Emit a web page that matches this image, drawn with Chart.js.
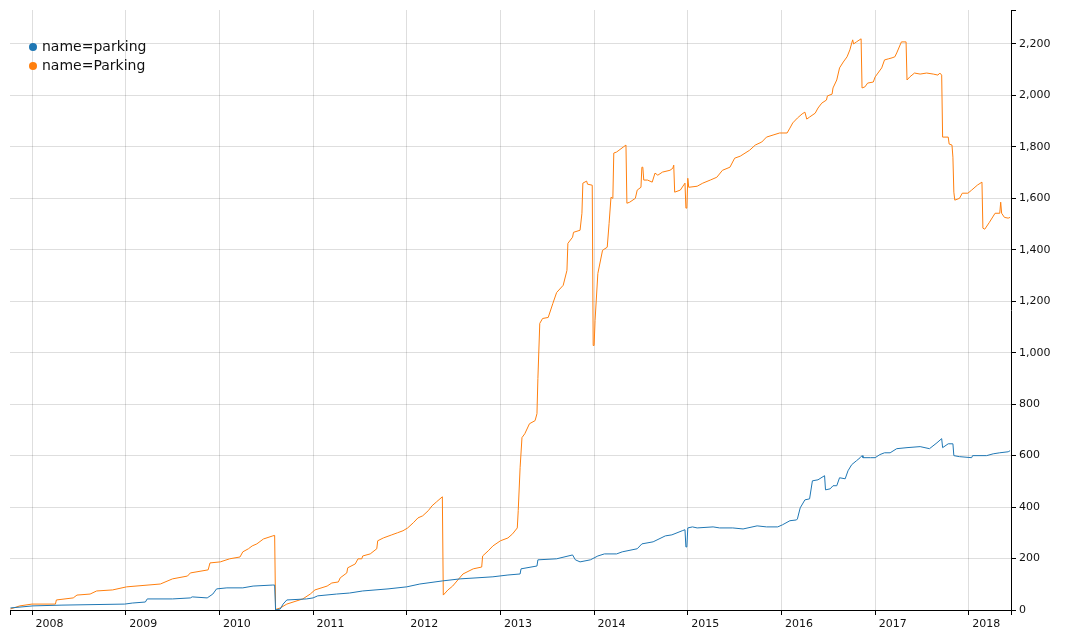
<!DOCTYPE html>
<html>
<head>
<meta charset="utf-8">
<script src="https://cdn.jsdelivr.net/npm/chart.js@4.4.1/dist/chart.umd.min.js"></script>
<style>
    html, body { margin: 0; padding: 0; background: #fff; }
    #wrap { width: 1080px; height: 640px; }
</style>
</head>
<body>
<div id="wrap"><canvas id="chart" width="1080" height="640"></canvas></div>
<script>
// series names
const seriesNames = ['name=parking', 'name=Parking'];
const seriesColors = ['#1f77b4', '#ff7f0e'];

// x positions are decimal years
const xMin = 2007.765;
const xMax = 2018.45;
const yearTicks = [2008, 2009, 2010, 2011, 2012, 2013, 2014, 2015, 2016, 2017, 2018];
const yMax = 2332;
const yStep = 200;

const lowerYears = [
    2007.77, 2008.01, 2008.32, 2008.99, 2009.07, 2009.21, 2009.23, 2009.50, 2009.69, 2009.71,
    2009.87, 2009.93, 2009.97, 2010.08, 2010.25, 2010.36, 2010.57, 2010.59, 2010.60, 2010.65,
    2010.68, 2010.72, 2010.93, 2011.00, 2011.05, 2011.25, 2011.39, 2011.53, 2011.80, 2012.00,
    2012.14, 2012.38, 2012.57, 2012.75, 2012.92, 2013.08, 2013.21, 2013.22, 2013.39, 2013.40,
    2013.60, 2013.77, 2013.80, 2013.85, 2013.96, 2014.04, 2014.11, 2014.24, 2014.30, 2014.46,
    2014.51, 2014.63, 2014.76, 2014.83, 2014.94, 2014.97, 2014.98, 2014.99, 2015.00, 2015.05,
    2015.10, 2015.27, 2015.34, 2015.48, 2015.59, 2015.74, 2015.84, 2015.96, 2016.01, 2016.09,
    2016.16, 2016.17, 2016.20, 2016.25, 2016.30, 2016.33, 2016.39, 2016.46, 2016.47, 2016.52,
    2016.55, 2016.59, 2016.62, 2016.68, 2016.71, 2016.75, 2016.80, 2016.84, 2016.86, 2016.87,
    2016.95, 2017.00, 2017.05, 2017.10, 2017.16, 2017.23, 2017.34, 2017.48, 2017.58, 2017.66,
    2017.71, 2017.72, 2017.78, 2017.83, 2017.84, 2017.90, 2018.03, 2018.04, 2018.19, 2018.26,
    2018.33, 2018.42, 2018.44
];
const lowerValues = [
    8, 16, 19, 23, 27, 31, 43, 43, 47, 51,
    47, 62, 82, 86, 86, 93, 97, 97, 0, 4,
    23, 39, 43, 47, 55, 62, 66, 74, 82, 90,
    101, 113, 121, 125, 129, 136, 140, 160, 171, 195,
    199, 214, 195, 187, 195, 210, 218, 218, 226, 238,
    257, 265, 288, 292, 308, 312, 245, 245, 319, 323,
    319, 323, 319, 319, 315, 327, 323, 323, 331, 347,
    350, 354, 397, 428, 432, 502, 506, 522, 467, 471,
    483, 483, 514, 510, 541, 565, 580, 592, 600, 592,
    592, 592, 604, 611, 611, 627, 631, 635, 627, 650,
    666, 631, 646, 646, 600, 596, 592, 600, 600, 607,
    611, 615, 619
];

const upperYears = [
    2007.77, 2007.87, 2008.00, 2008.25, 2008.26, 2008.44, 2008.48, 2008.62, 2008.69, 2008.86,
    2009.01, 2009.37, 2009.50, 2009.66, 2009.69, 2009.88, 2009.90, 2010.01, 2010.11, 2010.22,
    2010.25, 2010.31, 2010.35, 2010.40, 2010.47, 2010.57, 2010.59, 2010.60, 2010.65, 2010.72,
    2010.89, 2010.97, 2011.02, 2011.15, 2011.20, 2011.27, 2011.29, 2011.36, 2011.37, 2011.45,
    2011.48, 2011.52, 2011.53, 2011.61, 2011.68, 2011.69, 2011.75, 2011.84, 2011.90, 2011.96,
    2012.01, 2012.07, 2012.12, 2012.17, 2012.23, 2012.27, 2012.32, 2012.38, 2012.39, 2012.44,
    2012.49, 2012.60, 2012.71, 2012.80, 2012.81, 2012.87, 2012.92, 2013.00, 2013.08, 2013.13,
    2013.18, 2013.19, 2013.21, 2013.23, 2013.26, 2013.31, 2013.37, 2013.39, 2013.40, 2013.42,
    2013.45, 2013.51, 2013.56, 2013.60, 2013.67, 2013.71, 2013.72, 2013.77, 2013.78, 2013.85,
    2013.87, 2013.88, 2013.92, 2013.93, 2013.98, 2013.99, 2014.00, 2014.01, 2014.04, 2014.09,
    2014.14, 2014.16, 2014.18, 2014.20, 2014.21, 2014.24, 2014.31, 2014.34, 2014.35, 2014.38,
    2014.44, 2014.46, 2014.50, 2014.51, 2014.52, 2014.53, 2014.57, 2014.62, 2014.65, 2014.68,
    2014.73, 2014.81, 2014.84, 2014.85, 2014.86, 2014.92, 2014.97, 2014.98, 2014.99, 2015.00,
    2015.01, 2015.10, 2015.16, 2015.24, 2015.31, 2015.37, 2015.45, 2015.50, 2015.56, 2015.66,
    2015.72, 2015.79, 2015.84, 2015.91, 2015.98, 2016.06, 2016.09, 2016.12, 2016.17, 2016.22,
    2016.25, 2016.27, 2016.30, 2016.36, 2016.39, 2016.43, 2016.48, 2016.49, 2016.54, 2016.55,
    2016.59, 2016.62, 2016.66, 2016.70, 2016.73, 2016.75, 2016.76, 2016.77, 2016.80, 2016.85,
    2016.86, 2016.89, 2016.92, 2016.98, 2017.00, 2017.03, 2017.07, 2017.10, 2017.14, 2017.18,
    2017.21, 2017.23, 2017.28, 2017.33, 2017.34, 2017.37, 2017.42, 2017.48, 2017.55, 2017.62,
    2017.67, 2017.69, 2017.71, 2017.72, 2017.78, 2017.79, 2017.82, 2017.83, 2017.84, 2017.85,
    2017.90, 2017.93, 2017.99, 2018.03, 2018.09, 2018.14, 2018.15, 2018.17, 2018.22, 2018.28,
    2018.33, 2018.34, 2018.35, 2018.38, 2018.42, 2018.44
];
const upperValues = [
    4, 16, 23, 23, 39, 47, 58, 62, 74, 78,
    90, 101, 121, 132, 144, 156, 183, 187, 199, 206,
    226, 238, 249, 257, 276, 288, 290, 2, 8, 23,
    43, 62, 78, 93, 105, 109, 125, 144, 164, 179,
    199, 199, 210, 218, 238, 269, 280, 292, 300, 308,
    319, 339, 358, 366, 386, 405, 421, 440, 58, 78,
    93, 140, 160, 167, 210, 230, 249, 269, 280, 296,
    319, 386, 553, 670, 685, 724, 736, 763, 900, 1114,
    1133, 1137, 1192, 1234, 1262, 1320, 1425, 1449, 1468, 1476,
    1542, 1659, 1667, 1655, 1651, 1028, 1028, 1125, 1308, 1398,
    1410, 1503, 1604, 1600, 1776, 1780, 1799, 1807, 1581, 1585,
    1600, 1632, 1643, 1721, 1721, 1671, 1671, 1663, 1698, 1690,
    1702, 1709, 1717, 1729, 1624, 1632, 1659, 1562, 1562, 1678,
    1643, 1647, 1659, 1671, 1682, 1709, 1721, 1756, 1764, 1787,
    1807, 1819, 1838, 1846, 1854, 1854, 1873, 1893, 1912, 1928,
    1935, 1908, 1916, 1931, 1951, 1970, 1982, 1998, 2005, 2029,
    2060, 2107, 2130, 2150, 2177, 2204, 2216, 2200, 2208, 2220,
    2029, 2033, 2048, 2052, 2072, 2087, 2107, 2138, 2142, 2146,
    2150, 2165, 2208, 2208, 2060, 2072, 2087, 2083, 2087, 2083,
    2079, 2087, 2079, 1838, 1838, 1811, 1807, 1760, 1624, 1593,
    1600, 1620, 1620, 1632, 1651, 1663, 1484, 1480, 1507, 1542,
    1542, 1585, 1542, 1526, 1523, 1526
];

function toPoints(xs, ys) {
    return xs.map((x, i) => ({ x: x, y: ys[i] }));
}

const font = { family: '"DejaVu Sans", sans-serif', size: 11 };
const gridColor = 'rgba(0, 0, 0, 0.13)';

// legend drawn in the top-left corner of the plot
const cornerLegend = {
    id: 'cornerLegend',
    afterDraw(chart) {
        const ctx = chart.ctx;
        const left = chart.chartArea.left;
        const top = chart.chartArea.top;
        ctx.save();
        ctx.font = '14px "DejaVu Sans", sans-serif';
        ctx.textBaseline = 'middle';
        chart.data.datasets.forEach((ds, i) => {
            const y = top + 37 + i * 19;
            ctx.fillStyle = ds.borderColor;
            ctx.beginPath();
            ctx.arc(left + 23, y, 4, 0, Math.PI * 2);
            ctx.fill();
            ctx.fillStyle = '#111';
            ctx.fillText(ds.label, left + 32, y);
        });
        ctx.restore();
    }
};

new Chart(document.getElementById('chart'), {
    type: 'line',
    data: {
        datasets: [
            {
                label: seriesNames[0],
                data: toPoints(lowerYears, lowerValues),
                borderColor: seriesColors[0],
                backgroundColor: seriesColors[0],
                borderWidth: 1,
                pointRadius: 0,
                tension: 0
            },
            {
                label: seriesNames[1],
                data: toPoints(upperYears, upperValues),
                borderColor: seriesColors[1],
                backgroundColor: seriesColors[1],
                borderWidth: 1,
                pointRadius: 0,
                tension: 0
            }
        ]
    },
    options: {
        responsive: false,
        animation: false,
        devicePixelRatio: 1,
        layout: { padding: { left: 10, top: 10, right: 0, bottom: 0 } },
        plugins: {
            legend: { display: false },
            tooltip: { enabled: false }
        },
        scales: {
            x: {
                type: 'linear',
                min: xMin,
                max: xMax,
                afterBuildTicks: scale => {
                    scale.ticks = [{ value: xMin }].concat(yearTicks.map(v => ({ value: v })), [{ value: xMax }]);
                },
                afterFit: scale => { scale.height = 30; },
                border: { display: true, color: '#000', width: 1 },
                grid: {
                    color: c => (c.tick && yearTicks.includes(c.tick.value)) ? gridColor : 'rgba(0,0,0,0)',
                    tickColor: '#000',
                    tickLength: 5
                },
                ticks: {
                    autoSkip: false,
                    maxRotation: 0,
                    align: 'start',
                    padding: 3,
                    color: '#111',
                    font: font,
                    callback: v => yearTicks.includes(v) ? ' ' + v : ''
                }
            },
            y: {
                position: 'right',
                min: 0,
                max: yMax,
                afterFit: scale => { scale.width = 69; },
                border: { display: true, color: '#000', width: 1 },
                grid: {
                    color: c => (c.tick && c.tick.value % yStep === 0 && c.tick.value > 0) ? gridColor : 'rgba(0,0,0,0)',
                    tickColor: '#000',
                    tickLength: 5
                },
                ticks: {
                    stepSize: yStep,
                    padding: 3,
                    color: '#111',
                    font: font,
                    callback: v => v % yStep === 0 ? v.toLocaleString('en-US') : ''
                }
            }
        }
    },
    plugins: [cornerLegend]
});
</script>
</body>
</html>
